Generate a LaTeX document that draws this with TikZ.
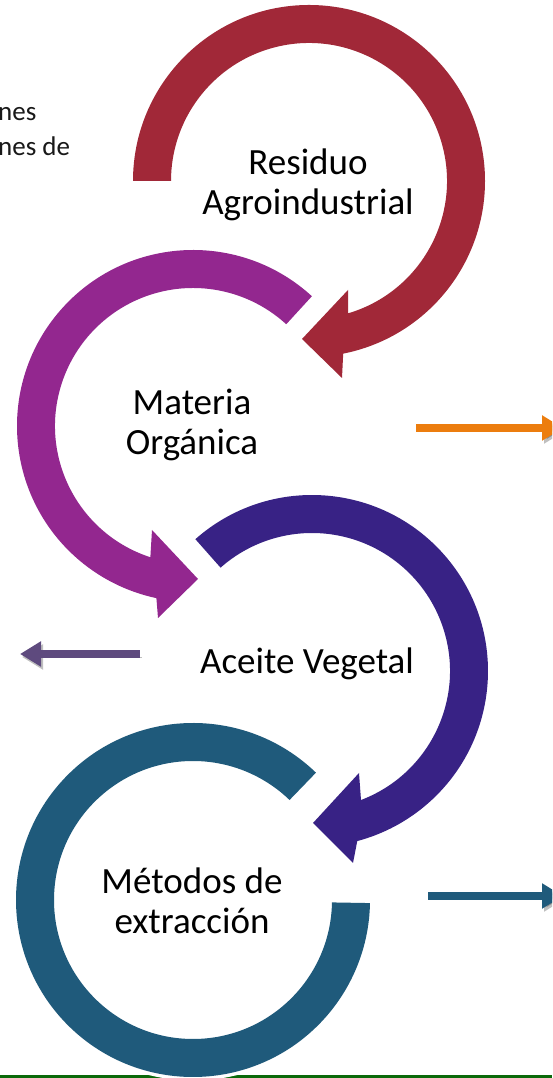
\documentclass[tikz,border=0pt]{standalone}
\usepackage{fontspec}
\setmainfont{Carlito}
\usetikzlibrary{arrows.meta,positioning,calc}

\definecolor{residuo}{RGB}{161,40,56}
\definecolor{materia}{RGB}{147,39,143}
\definecolor{aceite}{RGB}{56,34,133}
\definecolor{metodos}{RGB}{31,90,123}
\definecolor{naranja}{RGB}{236,125,14}
\definecolor{lila}{RGB}{94,74,126}
\definecolor{suelo}{RGB}{10,105,10}

\begin{document}
\begin{tikzpicture}[x=1pt,y=1pt,
                    label/.style={
                                % The text:
                                align=center,text=black,
                                font=\fontsize{37}{40}\selectfont},
                    ring/.style={
                                % white rim round each ring
                                preaction={draw=white,line width=7pt}},
                    pointer/.style={
                                line width=8pt,
                                -{Triangle[length=21pt,width=24pt]},
                                preaction={draw=black,opacity=.25,
                                           transform canvas={shift={(2pt,-3pt)}}}}]
 \clip (0,0) rectangle (552,1078);
 \fill[white] (0,0) rectangle (552,1078);

 % ground line
 \draw[suelo,line width=3pt] (0,1.5) -- (552,1.5);

 % the rings
 \begin{scope}[shift={(309,897)}]
  \fill[residuo,ring] (180:176) arc[start angle=180,end angle=-78.8,radius=176]
        -- (33,-197) -- (-7,-158) -- (39,-109)
        -- (-73.5:138) arc[start angle=-73.5,end angle=180,radius=138] -- cycle;
 \end{scope}
 \begin{scope}[shift={(193,652)}]
  \fill[materia,ring] (47.5:176) arc[start angle=47.5,end angle=258,radius=176]
        -- (-35,-192) -- (5,-153) -- (-41,-104)
        -- (252:138) arc[start angle=252,end angle=47.5,radius=138] -- cycle;
 \end{scope}
 \begin{scope}[shift={(312,407)}]
  \fill[aceite,ring] (131.5:176) arc[start angle=131.5,end angle=-75.1,radius=176]
        -- (41,-192) -- (1,-152) -- (47,-102)
        -- (-69.2:138) arc[start angle=-69.2,end angle=131.5,radius=138] -- cycle;
 \end{scope}
 \begin{scope}[shift={(193,178)}]
  \fill[metodos,ring] (46:177) arc[start angle=46,end angle=359,radius=177]
        -- (359:139) arc[start angle=359,end angle=46,radius=139] -- cycle;
 \end{scope}

 % texts
 \node (residuo) [label] at (308,893) {Residuo\\Agroindustrial};
 \node (materia) [label] at (192,653) {Materia\\Orgánica};
 \node (aceite)  [label] at (307,414) {Aceite Vegetal};
 \node (metodos) [label] at (192,177) {Métodos de\\extracción};
 \node (corte) [anchor=west,align=left,inner sep=0pt,text=black!90,
                font=\fontsize{27}{35}\selectfont] at (-2,946) {nes\\nes de};

 % side arrows
 \coordinate (o1) at (416,650); \coordinate (o2) at (563,650);
 \coordinate (l1) at (140,424); \coordinate (l2) at (20,424);
 \coordinate (t1) at (428,182); \coordinate (t2) at (563,182);
 \draw[pointer,naranja] (o1) -- (o2);
 \draw[pointer,lila]    (l1) -- (l2);
 \draw[pointer,metodos] (t1) -- (t2);
\end{tikzpicture}
\end{document}
